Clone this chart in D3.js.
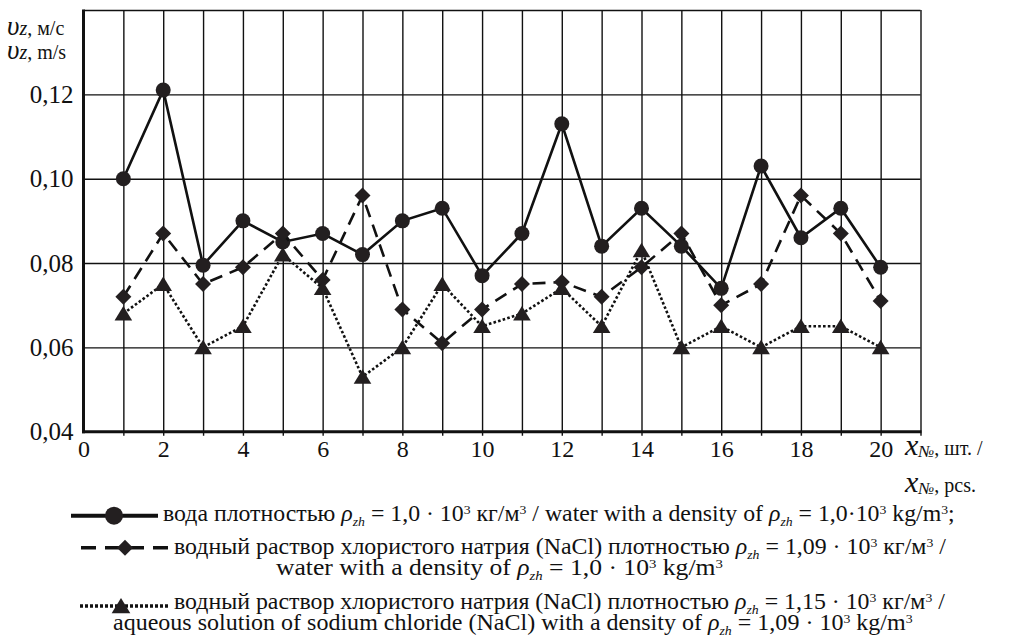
<!DOCTYPE html>
<html>
<head>
<meta charset="utf-8">
<script src="https://cdn.jsdelivr.net/npm/d3@7"></script>
<style>
  body { margin: 0; background: #fff; }
  svg { display: block; }
  svg text { font-family: "Liberation Serif", "Times New Roman", serif; }
</style>
</head>
<body>
<div id="chart"></div>
<script>
// sample numbers along the x axis
var samples = d3.range(1, 21);

// v_z, m/s for each liquid
var water = [0.100, 0.121, 0.0795, 0.090, 0.085, 0.087, 0.082, 0.090, 0.093, 0.077,
             0.087, 0.113, 0.084, 0.093, 0.084, 0.074, 0.103, 0.086, 0.093, 0.079];
var nacl109 = [0.072, 0.087, 0.075, 0.079, 0.087, 0.076, 0.096, 0.069, 0.061, 0.069,
               0.075, 0.0755, 0.072, 0.079, 0.087, 0.070, 0.075, 0.096, 0.087, 0.071];
var nacl115 = [0.068, 0.075, 0.060, 0.065, 0.082, 0.074, 0.053, 0.060, 0.075, 0.065,
               0.068, 0.074, 0.065, 0.083, 0.060, 0.065, 0.060, 0.065, 0.065, 0.060];

// ticks
var xTickLabels = d3.range(0, 21, 2);
var xGrid = d3.range(1, 22);
var yTickLabels = [0.04, 0.06, 0.08, 0.10, 0.12];
var yGrid = [0.06, 0.08, 0.10, 0.12, 0.14];

// legend text, segments: [text, kind]
var legendLines = [
  [["вода плотностью "], ["ρ", "i"], ["zh", "sub"], [" = 1,0 · 10"], ["3", "sup"], [" кг/м"], ["3", "sup"],
   [" / water with a density of "], ["ρ", "i"], ["zh", "sub"], [" = 1,0·10"], ["3", "sup"], [" kg/m"], ["3", "sup"], [";"]],
  [["водный раствор хлористого натрия (NaCl) плотностью "], ["ρ", "i"], ["zh", "sub"], [" = 1,09 · 10"], ["3", "sup"],
   [" кг/м"], ["3", "sup"], [" /"]],
  [["water with a density of "], ["ρ", "i"], ["zh", "sub"], [" = 1,0 · 10"], ["3", "sup"], [" kg/m"], ["3", "sup"]],
  [["водный раствор хлористого натрия (NaCl) плотностью "], ["ρ", "i"], ["zh", "sub"], [" = 1,15 · 10"], ["3", "sup"],
   [" кг/м"], ["3", "sup"], [" /"]],
  [["aqueous solution of sodium chloride (NaCl) with a density of  "], ["ρ", "i"], ["zh", "sub"], [" = 1,09 · 10"], ["3", "sup"],
   [" kg/m"], ["3", "sup"]]
];

var W = 1022, H = 636;
var plot = {left: 83.5, right: 920.5, top: 10, bottom: 431.7};
var serif = "'Liberation Serif', 'Times New Roman', serif";

var x = d3.scaleLinear().domain([0, 21]).range([plot.left, plot.right]);
var y = d3.scaleLinear().domain([0.04, 0.14]).range([plot.bottom, plot.top]);
var comma = function(d) { return d3.format(".2f")(d).replace(".", ","); };

var svg = d3.select("#chart").append("svg")
    .attr("width", W)
    .attr("height", H);

// grid
svg.append("g")
    .attr("transform", "translate(0," + plot.bottom + ")")
    .call(d3.axisBottom(x).tickValues(xGrid).tickSize(-(plot.bottom - plot.top)).tickSizeOuter(0).tickFormat(""))
    .call(function(g) {
      g.select(".domain").remove();
      g.selectAll("line").attr("y1", 4).attr("stroke", "#111").attr("stroke-width", 1.4);
    });

svg.append("g")
    .attr("transform", "translate(" + plot.left + ",0)")
    .call(d3.axisLeft(y).tickValues(yGrid).tickSize(-(plot.right - plot.left)).tickSizeOuter(0).tickFormat(""))
    .call(function(g) {
      g.select(".domain").remove();
      g.selectAll("line").attr("stroke", "#111").attr("stroke-width", 1.4);
    });

// axis lines
svg.append("line")
    .attr("x1", plot.left).attr("x2", plot.left)
    .attr("y1", plot.top - 0.5).attr("y2", plot.bottom + 1.5)
    .attr("stroke", "#111").attr("stroke-width", 3);
svg.append("line")
    .attr("x1", plot.left - 1.5).attr("x2", plot.right + 1)
    .attr("y1", plot.bottom).attr("y2", plot.bottom)
    .attr("stroke", "#111").attr("stroke-width", 3);

// tick labels
svg.append("g")
    .attr("transform", "translate(0," + plot.bottom + ")")
    .call(d3.axisBottom(x).tickValues(xTickLabels).tickSize(0).tickPadding(8).tickFormat(d3.format("d")))
    .call(function(g) {
      g.select(".domain").remove();
      g.selectAll("text").style("font-family", serif).style("font-size", "24px").attr("fill", "#111");
    });

svg.append("g")
    .attr("transform", "translate(" + plot.left + ",0)")
    .call(d3.axisLeft(y).tickValues(yTickLabels).tickSize(0).tickPadding(10).tickFormat(comma))
    .call(function(g) {
      g.select(".domain").remove();
      g.selectAll("text").style("font-family", serif).style("font-size", "25px").attr("fill", "#111");
    });

// axis titles
function addTitle(tx, ty, parts) {
  var t = svg.append("text").attr("x", tx).attr("y", ty).attr("fill", "#111");
  parts.forEach(function(p) {
    t.append("tspan")
      .style("font-size", p[1] + "px")
      .style("font-style", p[2] || "normal")
      .attr("dy", p[3] || null)
      .text(p[0]);
  });
}
addTitle(7, 35, [["υ", 27, "italic"], ["z", 20, "italic"], [", м/с", 20]]);
addTitle(7, 59, [["υ", 27, "italic"], ["z", 20, "italic"], [", m/s", 20]]);
addTitle(905, 455, [["x", 30, "italic"], ["№", 17, "italic", 2], [", шт. /", 20, null, -2]]);
addTitle(905, 492, [["x", 30, "italic"], ["№", 17, "italic", 2], [", pcs.", 20, null, -2]]);

// series
var series = [
  {values: water, dash: null, shape: "circle"},
  {values: nacl109, dash: "13,8", shape: "diamond"},
  {values: nacl115, dash: "2.6,2.2", shape: "triangle"}
];

var line = d3.line()
    .x(function(d) { return x(d[0]); })
    .y(function(d) { return y(d[1]); });

function markerPath(shape, s) {
  if (shape === "circle") return d3.symbol().type(d3.symbolCircle).size(Math.PI * s * s)();
  if (shape === "diamond") return "M0," + (-s) + "L" + s + ",0L0," + s + "L" + (-s) + ",0Z";
  return "M0," + (-s * 0.95) + "L" + (s * 1.1) + "," + (s * 0.85) + "L" + (-s * 1.1) + "," + (s * 0.85) + "Z";
}

series.forEach(function(s) {
  var pts = samples.map(function(n, i) { return [n, s.values[i]]; });
  svg.append("path")
      .datum(pts)
      .attr("fill", "none")
      .attr("stroke", "#111")
      .attr("stroke-width", 2.6)
      .attr("stroke-dasharray", s.dash)
      .attr("d", line);
  svg.selectAll(".m-" + s.shape)
      .data(pts)
    .enter().append("path")
      .attr("class", "m-" + s.shape)
      .attr("transform", function(d) { return "translate(" + x(d[0]) + "," + y(d[1]) + ")"; })
      .attr("d", markerPath(s.shape, s.shape === "circle" ? 7.5 : 8))
      .attr("fill", "#231f20");
});

// legend samples
var legendKeys = [
  {y: 515.7, x1: 71, x2: 158, mx: 114, dash: null, width: 4, shape: "circle", size: 9},
  {y: 547.7, x1: 81, x2: 168, mx: 125, dash: "15,9", width: 3.5, shape: "diamond", size: 8},
  {y: 606, x1: 80, x2: 168, mx: 121, dash: "3,2", width: 3.5, shape: "triangle", size: 8.5}
];
legendKeys.forEach(function(k) {
  svg.append("line")
      .attr("x1", k.x1).attr("x2", k.x2).attr("y1", k.y).attr("y2", k.y)
      .attr("stroke", "#111").attr("stroke-width", k.width)
      .attr("stroke-dasharray", k.dash);
  svg.append("path")
      .attr("transform", "translate(" + k.mx + "," + k.y + ")")
      .attr("d", markerPath(k.shape, k.size))
      .attr("fill", "#231f20");
});

// legend text, fitted to the original line widths
var legendPos = [
  {x: 163, y: 521, w: 792},
  {x: 174, y: 554, w: 773},
  {x: 276, y: 575, w: 447},
  {x: 174, y: 609, w: 772},
  {x: 113, y: 630, w: 800}
];
legendLines.forEach(function(segs, i) {
  var p = legendPos[i];
  var t = svg.append("text").attr("x", p.x).attr("y", p.y)
      .style("font-size", "22.5px").attr("fill", "#111");
  var shift = 0;
  segs.forEach(function(s) {
    var kind = s[1] || "n";
    var target = kind === "sub" ? 5 : kind === "sup" ? -7 : 0;
    var ts = t.append("tspan").text(s[0]).attr("dy", target - shift);
    shift = target;
    if (kind === "i" || kind === "sub") ts.style("font-style", "italic");
    if (kind === "sub" || kind === "sup") ts.style("font-size", "13px");
  });
  var bw = t.node().getBBox().width;
  var sx = p.w / bw;
  t.attr("transform", "translate(" + p.x + ",0) scale(" + sx + ",1) translate(" + (-p.x) + ",0)");
});
</script>
</body>
</html>
